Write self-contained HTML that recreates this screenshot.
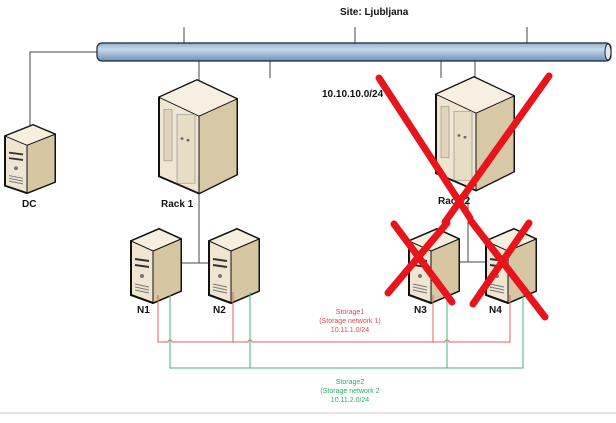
<!DOCTYPE html>
<html><head><meta charset="utf-8"><style>
html,body{margin:0;padding:0;background:#fff;}
svg{display:block;font-family:"Liberation Sans",sans-serif;}
</style></head><body>
<svg width="616" height="423" viewBox="0 0 616 423" xmlns="http://www.w3.org/2000/svg">
<defs>
<linearGradient id="pipe" x1="0" y1="0" x2="0" y2="1">
<stop offset="0" stop-color="#8fb0d0"/><stop offset="0.35" stop-color="#c7d9ec"/><stop offset="1" stop-color="#6d90b8"/>
</linearGradient>
<g id="node">
<polygon points="0,12 28,0 50,10 50,62 22,74 0,66" fill="#efe6d2" stroke="#111" stroke-width="2"/>
<polygon points="22,22 50,10 50,62 22,74" fill="#d6c6a2" stroke="#111" stroke-width="1"/>
<polygon points="0,12 28,0 50,10 22,22" fill="#f6efe0" stroke="#111" stroke-width="1"/>
<line x1="4" y1="30" x2="18" y2="32" stroke="#333" stroke-width="2"/>
<line x1="4" y1="36" x2="18" y2="38" stroke="#333" stroke-width="2"/>
<circle cx="11" cy="47" r="2" fill="#777"/>
<line x1="4" y1="55" x2="18" y2="58" stroke="#777"/><line x1="4" y1="58" x2="18" y2="61" stroke="#777"/><line x1="4" y1="61" x2="18" y2="64" stroke="#777"/>
</g>
<g id="rack">
<polygon points="0,20 38,0 78,22 78,110 40,132 0,112" fill="#efe6d2" stroke="#111" stroke-width="2"/>
<polygon points="40,42 78,22 78,110 40,132" fill="#d8c9a6" stroke="#111" stroke-width="1"/>
<polygon points="0,20 38,0 78,22 40,42" fill="#f7f0e2" stroke="#111" stroke-width="1"/>
<rect x="5" y="34" width="8" height="60" fill="#e0d4ba" stroke="#888" stroke-width="0.6"/>
<rect x="18" y="40" width="18" height="80" fill="#e7dcc4" stroke="#888" stroke-width="0.6"/>
<circle cx="23" cy="68" r="1.5" fill="#666"/><circle cx="29" cy="70" r="1.5" fill="#666"/>
</g>
</defs>
<rect width="616" height="423" fill="#fff"/>
<line x1="0" y1="413" x2="616" y2="413" stroke="#ddd" stroke-width="1.5"/>
<g stroke="#444" stroke-width="1" fill="none">
<line x1="184" y1="27" x2="184" y2="44"/><line x1="355" y1="27" x2="355" y2="44"/><line x1="527" y1="27" x2="527" y2="44"/>
<line x1="270" y1="60" x2="270" y2="78"/><line x1="441" y1="60" x2="441" y2="78"/>
<line x1="199" y1="60" x2="199" y2="82"/><line x1="475" y1="60" x2="475" y2="79"/>
<polyline points="98,52 30,52 30,126"/>
<line x1="199" y1="190" x2="199" y2="263"/><line x1="181" y1="263" x2="210" y2="263"/>
<line x1="468" y1="188" x2="468" y2="262"/><line x1="455" y1="262" x2="486" y2="262"/>
</g>
<rect x="97" y="43" width="514" height="18" rx="5" fill="url(#pipe)" stroke="#223" stroke-width="1.2"/>
<ellipse cx="608" cy="52" rx="3" ry="8" fill="#dce8f4" stroke="#223"/>
<text x="340" y="15" font-size="10" font-weight="bold" fill="#111">Site: Ljubljana</text>
<text x="322" y="97" font-size="10" font-weight="bold" fill="#111">10.10.10.0/24</text>
<g transform="translate(5,125) scale(1,0.92)"><use href="#node"/></g>
<text x="22" y="207" font-size="10" font-weight="bold" fill="#111">DC</text>
<g transform="translate(159,80) scale(1,0.86)"><use href="#rack"/></g>
<text x="161" y="207" font-size="10" font-weight="bold" fill="#111">Rack 1</text>
<g transform="translate(436,77) scale(1,0.86)"><use href="#rack"/></g>
<text x="438" y="204" font-size="10" font-weight="bold" fill="#111">Rack 2</text>
<use href="#node" transform="translate(131,229)"/>
<use href="#node" transform="translate(209,229)"/>
<use href="#node" transform="translate(409,229)"/>
<use href="#node" transform="translate(486,229)"/>
<g font-size="10" font-weight="bold" fill="#111">
<text x="137" y="313">N1</text><text x="213" y="313">N2</text><text x="414" y="313">N3</text><text x="489" y="313">N4</text>
</g>
<g stroke="#e06060" stroke-width="1" fill="none">
<path d="M158,295 V342 H168 a2,2 0 0 1 4,0 H248 a2,2 0 0 1 4,0 H445 a2,2 0 0 1 4,0 H510 V295"/>
<line x1="233" y1="292" x2="233" y2="342"/><line x1="433" y1="295" x2="433" y2="342"/>
</g>
<g stroke="#3cb878" stroke-width="1" fill="none">
<polyline points="170,295 170,368 523,368 523,295"/>
<line x1="250" y1="292" x2="250" y2="368"/><line x1="447" y1="295" x2="447" y2="368"/>
</g>
<g font-size="7" fill="#e04848" text-anchor="middle">
<text x="350" y="314">Storage1</text><text x="350" y="323">(Storage network 1)</text><text x="350" y="332">10.11.1.0/24</text>
</g>
<g font-size="7" fill="#2faa60" text-anchor="middle">
<text x="350" y="384">Storage2</text><text x="350" y="393">(Storage network 2</text><text x="350" y="402">10.11.2.0/24</text>
</g>
<g stroke="#e8141c" stroke-width="7" stroke-linecap="round">
<line x1="379" y1="78" x2="470" y2="218"/><line x1="549" y1="76" x2="445" y2="222"/>
<line x1="394" y1="224" x2="452" y2="302"/><line x1="447" y1="223" x2="388" y2="293"/>
<line x1="471" y1="221" x2="545" y2="317"/><line x1="529" y1="223" x2="473" y2="304"/>
</g>
</svg>
</body></html>
